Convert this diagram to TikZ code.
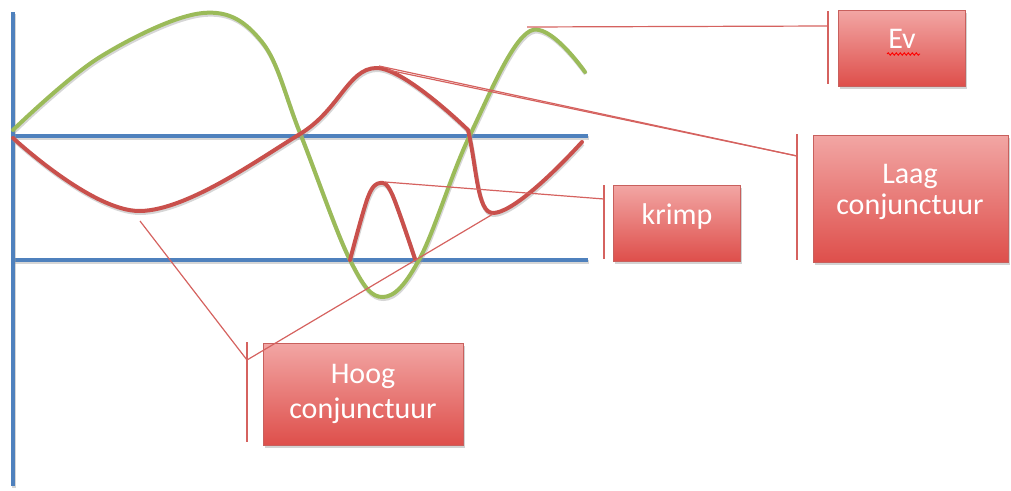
\documentclass[tikz,border=0pt]{standalone}
\usepackage{fontspec}
\setmainfont{Carlito}
\usetikzlibrary{shadows,decorations.pathmorphing}
\definecolor{ablue}{HTML}{4F81BD}
\definecolor{agreen}{HTML}{9BBB59}
\definecolor{ared}{HTML}{C9504C}
\definecolor{cline}{HTML}{D5625F}
\definecolor{btop}{HTML}{F2A6A4}
\definecolor{bbot}{HTML}{DE4F4B}
\definecolor{bedge}{HTML}{C8605D}
\tikzset{
  shadowed/.style={preaction={draw=black!40, opacity=0.4, line width=4pt, transform canvas={xshift=0.8pt,yshift=-2pt}}},
  axisline/.style={draw=ablue, line width=4pt, shadowed},
  curve/.style={line width=4pt, line cap=round, line join=round, shadowed},
  callout/.style={draw=cline, line width=1.2pt},
  accentbar/.style={draw=cline, line width=1.5pt},
  callbox/.style={rectangle, draw=bedge, line width=0.6pt, top color=btop, bottom color=bbot,
    drop shadow={shadow xshift=1.5pt, shadow yshift=-2.5pt, opacity=0.35}, inner sep=0pt},
  boxtext/.style={text=white, align=center, inner sep=0pt}
}
\begin{document}
\begin{tikzpicture}[x=1pt,y=-1pt]
\useasboundingbox (0,0) rectangle (1011,490);
% axes
\coordinate (ax0) at (13,12);
\coordinate (ax1) at (13,486);
\coordinate (u0) at (13,136);
\coordinate (u1) at (588,136);
\coordinate (l0) at (13,260);
\coordinate (l1) at (588,260);
\draw[axisline] (u0) -- (u1);
\draw[axisline] (l0) -- (l1);
\draw[axisline] (ax0) -- (ax1);
% green curve
\draw[curve, draw=agreen] plot[smooth, tension=0.6] coordinates {
 (13,130) (100,57) (203,13) (262,42) (300,133)
 (350,260) (383,297) (420,258) (470,135)
 (530,31) (585,72)};
% red curve
\coordinate (rk) at (468,130);
\coordinate (rm) at (493,213);
\coordinate (re) at (582,142);
\draw[curve, draw=ared] plot[smooth, tension=0.6] coordinates {
 (13,138) (140,211) (300,134) (376,68) (468,130)}
 -- (rk) .. controls (477,168) and (477,213) .. (rm)
 .. controls (511,213) and (550,177) .. (re);
% krimp hump
\draw[curve, draw=ared] plot[smooth, tension=0.55] coordinates {
 (350,260) (368,197) (380,183) (392,194) (415,259)};
% boxes
\node[callbox, minimum width=127pt, minimum height=76pt] (ev) at (901.5,48) {};
\node[callbox, minimum width=195pt, minimum height=127pt] (laag) at (910.5,198.5) {};
\node[callbox, minimum width=127pt, minimum height=76pt] (krimp) at (676.5,223) {};
\node[callbox, minimum width=200pt, minimum height=102pt] (hoog) at (363,394) {};
\node[boxtext, font=\fontsize{30}{31}\selectfont] (evt) at (902,39) {Ev};
\node[boxtext, font=\fontsize{30}{31}\selectfont] (laagt) at (910,192) {Laag\\conjunctuur};
\node[boxtext, font=\fontsize{30}{31}\selectfont] (krimpt) at (677,216) {krimp};
\node[boxtext, font=\fontsize{30}{35}\selectfont] (hoogt) at (363,394) {Hoog\\conjunctuur};
% spelling squiggle under Ev
\coordinate (sq0) at (887,54);
\coordinate (sq1) at (920,54);
\draw[red, line width=0.9pt, decorate, decoration={snake, amplitude=1.2pt, segment length=4pt}] (sq0) -- (sq1);
% callout: Ev
\coordinate (evp) at (527,27);
\coordinate (evj) at (828,26);
\coordinate (evb0) at (828,11);
\coordinate (evb1) at (828,84);
\draw[callout] (evp) -- (evj);
\draw[accentbar] (evb0) -- (evb1);
% callout: Laag conjunctuur
\coordinate (lp1) at (379,66);
\coordinate (lp2) at (388,70);
\coordinate (lj) at (797,156);
\coordinate (lb0) at (797,134);
\coordinate (lb1) at (797,260);
\draw[callout] (lp1) -- (lj);
\draw[callout] (lp2) -- (lj);
\draw[accentbar] (lb0) -- (lb1);
% callout: krimp
\coordinate (kp) at (385,182);
\coordinate (kj) at (604,199);
\coordinate (kb0) at (604,185);
\coordinate (kb1) at (604,259);
\draw[callout] (kp) -- (kj);
\draw[accentbar] (kb0) -- (kb1);
% callout: Hoog conjunctuur
\coordinate (hp1) at (140,221);
\coordinate (hp2) at (493,214);
\coordinate (hj) at (247,360);
\coordinate (hb0) at (247,342);
\coordinate (hb1) at (247,442);
\draw[callout] (hp1) -- (hj);
\draw[callout] (hp2) -- (hj);
\draw[accentbar] (hb0) -- (hb1);
\end{tikzpicture}
\end{document}
